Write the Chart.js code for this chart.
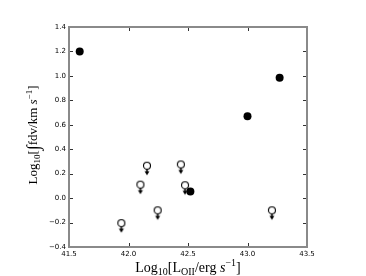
<!DOCTYPE html>
<html>
<head>
<meta charset="utf-8">
<script src="https://cdn.jsdelivr.net/npm/chart.js@4"></script>
<style>
  html, body { margin: 0; padding: 0; background: #fff; }
  #wrap { width: 366px; height: 276px; }
</style>
</head>
<body>
<div id="wrap"><canvas id="chart" width="366" height="276"></canvas></div>
<script>
// detections (filled) and upper limits (open + arrow)
const detX = [41.59, 43.0, 43.27, 42.52]
const detY = [1.20, 0.67, 0.985, 0.055]
const limX = [41.94, 42.10, 42.155, 42.245, 42.44, 42.475, 43.205]
const limY = [-0.205, 0.11, 0.265, -0.10, 0.275, 0.105, -0.10]

const xTicks = [41.5, 42.0, 42.5, 43.0, 43.5]
const yTicks = [-0.4, -0.2, 0.0, 0.2, 0.4, 0.6, 0.8, 1.0, 1.2, 1.4]

const toPoints = (xs, ys) => xs.map((x, i) => ({ x: x, y: ys[i] }))
const fmt = v => v.toFixed(1).replace('-', '\u2212')

// open circle with a down arrow, centred on the point
const limitMarker = (() => {
  const c = document.createElement('canvas')
  c.width = 12
  c.height = 28
  const g = c.getContext('2d')
  g.strokeStyle = '#000'
  g.fillStyle = '#000'
  g.lineWidth = 1.4
  g.beginPath()
  g.moveTo(6, 16)
  g.lineTo(6, 21.5)
  g.stroke()
  g.beginPath()
  g.moveTo(3.5, 19.5)
  g.lineTo(8.5, 19.5)
  g.lineTo(6, 23.5)
  g.closePath()
  g.fill()
  g.beginPath()
  g.arc(6, 14, 3.5, 0, Math.PI * 2)
  g.fillStyle = '#fff'
  g.fill()
  g.lineWidth = 1.1
  g.stroke()
  return c
})()

const drawParts = (ctx, parts, cx, cy) => {
  let w = 0
  parts.forEach(p => { ctx.font = p.font; p.w = ctx.measureText(p.t).width; w += p.w })
  let x = cx - w / 2
  ctx.textBaseline = 'alphabetic'
  ctx.textAlign = 'left'
  parts.forEach(p => {
    ctx.font = p.font
    ctx.fillText(p.t, x, cy + (p.dy || 0))
    x += p.w
  })
}

const frame = {
  id: 'frame',
  afterDraw(chart) {
    const { ctx, chartArea: a, scales } = chart
    ctx.save()
    ctx.strokeStyle = '#333'
    ctx.lineWidth = 1
    ctx.beginPath()
    xTicks.forEach(v => {
      const px = Math.round(scales.x.getPixelForValue(v)) + 0.5
      ctx.moveTo(px, a.bottom); ctx.lineTo(px, a.bottom - 4)
      ctx.moveTo(px, a.top); ctx.lineTo(px, a.top + 4)
    })
    yTicks.forEach(v => {
      const py = Math.round(scales.y.getPixelForValue(v)) + 0.5
      ctx.moveTo(a.left, py); ctx.lineTo(a.left + 4, py)
      ctx.moveTo(a.right, py); ctx.lineTo(a.right - 4, py)
    })
    ctx.stroke()
    ctx.strokeStyle = '#8a8a8a'
    ctx.lineWidth = 2
    ctx.strokeRect(a.left, a.top, a.right - a.left, a.bottom - a.top)

    // axis titles
    ctx.fillStyle = '#000'
    const rm = 'px "Liberation Serif"'
    const it = 'italic 14px "Liberation Serif"'
    drawParts(ctx, [
      { t: 'Log', font: '14' + rm },
      { t: '10', font: '10' + rm, dy: 3 },
      { t: '[L', font: '14' + rm },
      { t: 'OII', font: '10' + rm, dy: 3 },
      { t: '/erg ', font: '14' + rm },
      { t: 's', font: it },
      { t: '\u22121', font: '10' + rm, dy: -6 },
      { t: ']', font: '14' + rm }
    ], (a.left + a.right) / 2, 272)

    ctx.translate(37, 135)
    ctx.rotate(-Math.PI / 2)
    drawParts(ctx, [
      { t: 'Log', font: '13' + rm },
      { t: '10', font: '9' + rm, dy: 3 },
      { t: '[', font: '13' + rm },
      { t: '\u222B', font: '18' + rm, dy: 2 },
      { t: 'fdv/km ', font: '13' + rm },
      { t: 's', font: 'italic 13px "Liberation Serif"' },
      { t: '\u22121', font: '9' + rm, dy: -5 },
      { t: ']', font: '13' + rm }
    ], 0, 0)
    ctx.restore()
  }
}

new Chart(document.getElementById('chart'), {
  type: 'scatter',
  data: {
    datasets: [
      {
        label: 'detections',
        data: toPoints(detX, detY),
        pointStyle: 'circle',
        pointRadius: 4,
        backgroundColor: '#000',
        borderColor: '#000',
        borderWidth: 0
      },
      {
        label: 'upper limits',
        data: toPoints(limX, limY),
        pointStyle: limitMarker
      }
    ]
  },
  options: {
    responsive: false,
    animation: false,
    layout: { padding: { top: 27, right: 59, left: 0, bottom: 0 } },
    plugins: { legend: { display: false }, tooltip: { enabled: false } },
    scales: {
      x: {
        type: 'linear',
        min: 41.5,
        max: 43.5,
        afterBuildTicks: s => { s.ticks = xTicks.map(v => ({ value: v })) },
        afterFit: s => { s.height = 29 },
        grid: { display: false, drawTicks: false },
        border: { display: false },
        ticks: {
          padding: 3,
          color: '#000',
          font: { family: 'DejaVu Sans', size: 7 },
          maxRotation: 0,
          callback: v => fmt(v)
        }
      },
      y: {
        type: 'linear',
        min: -0.4,
        max: 1.4,
        afterBuildTicks: s => { s.ticks = yTicks.map(v => ({ value: v })) },
        afterFit: s => { s.width = 69 },
        grid: { display: false, drawTicks: false },
        border: { display: false },
        ticks: {
          padding: 3,
          color: '#000',
          font: { family: 'DejaVu Sans', size: 7 },
          callback: v => fmt(v)
        }
      }
    }
  },
  plugins: [frame]
})
</script>
</body>
</html>
